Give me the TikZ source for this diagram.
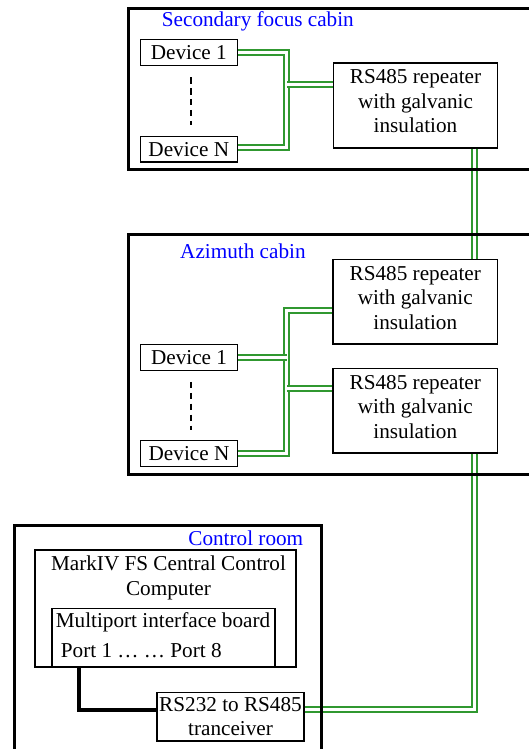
\documentclass[tikz,border=0pt]{standalone}
\usepackage{fontspec}
\setmainfont{Liberation Serif}
\definecolor{cable}{RGB}{48,152,48}
\begin{document}
\begin{tikzpicture}[x=1pt,y=-1pt,
  txt/.style={font=\fontsize{21.2}{24.5}\selectfont},
  box/.style={draw, line width=1.6pt, inner sep=0pt, align=center, txt},
  dev/.style={box, minimum width=97pt, minimum height=25.8pt},
  rep/.style={box, minimum width=164.3pt, minimum height=84.5pt},
  cabin/.style={draw, line width=3pt, inner sep=0pt, outer sep=0pt, anchor=north west},
  title/.style={txt, text=blue, inner sep=0pt},
  bus/.style={draw=cable, line width=2.2pt, double=white, double distance=3.2pt},
  gap/.style={draw, line width=2pt, dash pattern=on 6.5pt off 4.4pt},
  wire/.style={draw, line width=3.8pt}]
\useasboundingbox (0,0) rectangle (529,749);
\clip (0,0) rectangle (529,749);
\coordinate (lx) at (474.5,0);
\coordinate (sbus) at (286.5,100);
\coordinate (abus) at (286.5,400);
\coordinate (px) at (79,0);
% secondary focus cabin
\node[dev] (sd1) at (188.8,52.5) {Device 1};
\node[dev] (sdn) at (188.8,149.2) {Device N};
\node[rep] (sr) at (415.5,105.5) {RS485 repeater\\with galvanic\\insulation\rule[-8.5pt]{0pt}{8.5pt}};
% azimuth cabin
\node[dev] (ad1) at (189,357.5) {Device 1};
\node[dev] (adn) at (189,453.5) {Device N};
\node[rep] (ar1) at (415.3,301.8) {RS485 repeater\\with galvanic\\insulation\rule[-8.5pt]{0pt}{8.5pt}};
\node[rep] (ar2) at (415.3,410.8) {RS485 repeater\\with galvanic\\insulation\rule[-8.5pt]{0pt}{8.5pt}};
% control room
\node[box, minimum width=260.7pt, minimum height=116.7pt] (mk) at (165.35,608.35) {};
\node[box, minimum width=223.1pt, minimum height=58.4pt] (mp) at (163.25,637.5) {};
\node[inner sep=0pt, anchor=north, align=center, font=\fontsize{21.2}{25}\selectfont] (mkt) at (168.5,555.5) {MarkIV FS Central Control\\Computer};
\node[txt, inner sep=0pt, anchor=base] (mpt) at (163,627.3) {Multiport interface board};
\node[txt, inner sep=0pt, anchor=base west] (ports) at (60.7,657.7) {Port 1 … … Port 8};
\node[box, minimum width=147pt, minimum height=48.4pt, font=\fontsize{21.2}{23.7}\selectfont] (rs) at (230.5,716.5) {RS232 to RS485\\tranceiver};
% connection points
\coordinate (srin) at ([yshift=21pt]sr.west);
\coordinate (sdnin) at ([yshift=1.7pt]sdn.east);
\coordinate (ar1in) at ([yshift=-8.7pt]ar1.west);
\coordinate (ar2in) at ([yshift=22.3pt]ar2.west);
\coordinate (rsin) at ([yshift=7pt]rs.east);
\coordinate (rsser) at ([yshift=6.5pt]rs.west);
% cables
\draw[bus] (sd1.east) -| (sbus) |- (sdnin);
\draw[bus] (srin) -- (srin -| sbus);
\draw[bus] (ar1in) -| (abus) |- (adn.east);
\draw[bus] (ad1.east) -- (ad1.east -| abus);
\draw[bus] (ar2in) -- (ar2in -| abus);
\draw[bus] (sr.south -| lx) -- (ar1.north -| lx);
\draw[bus] (ar2.south -| lx) |- (rsin);
\draw[wire] (mp.south -| px) |- (rsser);
\draw[gap] ([xshift=2.2pt,yshift=-11pt]sd1.south) -- ([xshift=2.2pt,yshift=10pt]sdn.north);
\draw[gap] ([xshift=2pt,yshift=-10.7pt]ad1.south) -- ([xshift=2pt,yshift=10pt]adn.north);
% rooms
\node[cabin, minimum width=440pt, minimum height=161pt] (sfc) at (128.5,8.5) {};
\node[cabin, minimum width=440pt, minimum height=240pt] (azc) at (128.5,234.5) {};
\node[cabin, minimum width=307pt, minimum height=260pt] (ctl) at (14.5,525.5) {};
\node[title, anchor=base west] (sft) at (161.7,27) {Secondary focus cabin};
\node[title, anchor=base west] (azt) at (180,258.3) {Azimuth cabin};
\node[title, anchor=base east] (ctt) at (303.4,545.5) {Control room};
\end{tikzpicture}
\end{document}
